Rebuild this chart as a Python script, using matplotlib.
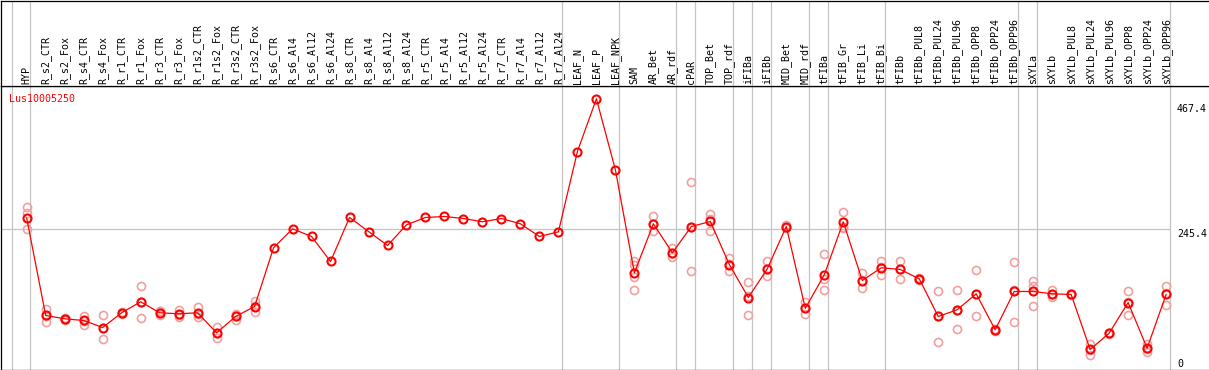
import matplotlib
matplotlib.use('Agg')
import matplotlib.pyplot as plt
import numpy as np

# categories (samples) along x
categories = ['HYP',
              'R_s2_CTR', 'R_s2_Fox', 'R_s4_CTR', 'R_s4_Fox', 'R_r1_CTR', 'R_r1_Fox',
              'R_r3_CTR', 'R_r3_Fox', 'R_r1s2_CTR', 'R_r1s2_Fox', 'R_r3s2_CTR', 'R_r3s2_Fox',
              'R_s6_CTR', 'R_s6_Al4', 'R_s6_Al12', 'R_s6_Al24', 'R_s8_CTR', 'R_s8_Al4',
              'R_s8_Al12', 'R_s8_Al24', 'R_r5_CTR', 'R_r5_Al4', 'R_r5_Al12', 'R_r5_Al24',
              'R_r7_CTR', 'R_r7_Al4', 'R_r7_Al12', 'R_r7_Al24',
              'LEAF_N', 'LEAF_P', 'LEAF_NPK',
              'SAM', 'AR_Bet', 'AR_rdf', 'cPAR', 'TOP_Bet', 'TOP_rdf', 'iFIBa', 'iFIBb',
              'MID_Bet', 'MID_rdf', 'tFIBa', 'tFIB_Gr', 'tFIB_Li', 'tFIB_Bi',
              'tFIBb', 'tFIBb_PUL8', 'tFIBb_PUL24', 'tFIBb_PUL96', 'tFIBb_OPP8',
              'tFIBb_OPP24', 'tFIBb_OPP96', 'sXYLa',
              'sXYLb', 'sXYLb_PUL8', 'sXYLb_PUL24', 'sXYLb_PUL96', 'sXYLb_OPP8',
              'sXYLb_OPP24', 'sXYLb_OPP96']

# how many categories in each group (grey separator after each group)
group_sizes = [1, 28, 3, 3, 1, 2, 1, 1, 2, 1, 3, 7, 1, 7]

# mean expression per category
means = [264.3,
         91.5, 85.6, 82.6, 70.1, 96.3, 115.8, 96.3, 94.5, 96.3, 60.7, 89.7, 107.4,
         211.7, 245.4, 231.8, 187.4, 265.6, 240.6, 215.8, 252.5,
         265.5, 267.3, 263.7, 257.9, 263.7, 254.3, 231.8, 240.1,
         382.7, 476.3, 350.2,
         167.3, 254.3, 202.8, 249.5, 258.4, 182.0, 123.4, 174.4,
         249.5, 104.2, 163.7, 257.8, 153.6, 176.2,
         173.2, 156.6, 89.7, 101.6, 130.0, 66.1, 134.1, 134.1,
         130.0, 128.8, 31.1, 60.0, 114.5, 33.4, 128.8]

# individual replicates per category
replicates = [[285.0, 273.8, 245.4],
              [103.4, 79.6, 91.0], [84.0, 87.0, 86.0], [90.2, 73.7, 82.0],
              [91.5, 50.1, 69.0], [95.0, 98.0, 96.0], [144.2, 87.9, 115.0],
              [98.6, 91.5, 99.0], [101.6, 88.4, 93.0], [106.2, 88.4, 94.0],
              [70.7, 51.1, 60.0], [94.5, 83.8, 90.0], [116.9, 97.3, 108.0],
              [], [], [], [], [], [], [], [],
              [], [], [], [], [], [], [], [],
              [], [], [],
              [187.4, 181.0, 159.5, 135.9], [269.0, 241.2, 254.0], [211.7, 195.0, 202.0],
              [328.9, 170.8, 249.0], [272.1, 241.2, 262.0], [193.2, 170.1, 183.0],
              [151.3, 92.7, 126.0], [187.4, 162.0, 174.0],
              [252.2, 249.5, 247.7], [115.3, 93.4, 104.0], [199.8, 156.6, 135.9],
              [276.1, 249.5, 247.0], [166.6, 139.9, 154.0], [187.9, 163.7, 177.0],
              [189.1, 156.6, 174.0], [158.0, 155.0, 157.0], [134.1, 44.8, 90.0],
              [135.9, 67.8, 101.0], [171.4, 89.7, 129.0], [68.0, 64.0, 66.0],
              [185.6, 80.8, 136.0], [152.4, 143.0, 108.7],
              [137.1, 124.0, 129.0], [130.0, 127.5, 129.0], [40.0, 21.7, 31.0],
              [61.0, 59.0, 60.0], [134.1, 92.7, 116.0], [41.2, 27.5, 32.0],
              [144.2, 110.5, 131.0]]

y_ticks = [0, 245.4, 467.4]
y_tick_labels = ['0', '245.4', '467.4']
gene = 'Lus10005250'

W, H = 1209, 370
fig = plt.figure(figsize=(W / 100, H / 100), dpi=100)
fig.patch.set_facecolor('white')

# pixel layout
left_px = 1
top_split = 85   # line between label band and plot
bottom_px = 369
x0_px = 26.7     # centre of first category
step_px = 18.99

ax_w = (W - left_px) / W
ax = fig.add_axes([left_px / W, (H - bottom_px - 0.5) / H, ax_w, (bottom_px - top_split) / H])
ax_top = fig.add_axes([left_px / W, (H - top_split - 0.5) / H, ax_w, (top_split - 0.5) / H])

xlim = ((left_px - x0_px) / step_px, (W - x0_px) / step_px)
for a in (ax, ax_top):
    a.set_xlim(*xlim)
    a.set_xticks([])
    a.set_yticks([])
    for s in ('left', 'top', 'bottom'):
        a.spines[s].set_color('black')
        a.spines[s].set_linewidth(0.9)
    a.spines['right'].set_visible(False)

# y scale: value -> pixel  y = 366.5 - 0.5631 * v
ax.set_ylim((366.5 - bottom_px) / 0.5631, (366.5 - top_split) / 0.5631)
ax_top.set_ylim(0, 1)

n = len(categories)
xs = np.arange(n)
grey = '#c4c4c4'

# group separators
ends = [-1] + list(np.cumsum(group_sizes) - 1)
for e in ends:
    for a in (ax, ax_top):
        a.axvline(e + 0.2, color=grey, lw=0.9, zorder=1)

# horizontal grid at middle tick
ax.hlines(y_ticks[1], xlim[0], ends[-1] + 0.2, color=grey, lw=0.9, zorder=1)

# replicates
for i, reps in enumerate(replicates):
    if reps:
        ax.plot([i] * len(reps), reps, 'o', ms=5.8, mfc='none', mec='#f0a0a0',
                mew=1.2, zorder=2, clip_on=False)

# mean line
ax.plot(xs, means, '-', color='red', lw=0.9, zorder=3)
ax.plot(xs, means, 'o', ms=5.8, mfc='none', mec='red', mew=1.5, zorder=4)

# category labels
for i, c in enumerate(categories):
    ax_top.text(i, 2 / 85, c, rotation=90, ha='center', va='bottom',
                family='DejaVu Sans Mono', fontsize=7.2, color='black')

# gene name
ax.text(8 / (W - left_px), 1 - 8 / (bottom_px - top_split), gene, transform=ax.transAxes,
        ha='left', va='top', family='DejaVu Sans Mono', fontsize=7.2, color='red')

# value labels on the right
for v, lab in zip(y_ticks, y_tick_labels):
    va = 'baseline' if v == min(y_ticks) else 'top'
    ax.text(n - 1 + 0.57, v, lab, ha='left', va=va, family='DejaVu Sans Mono',
            fontsize=7.2, color='black', clip_on=False)

fig.savefig('out.png', dpi=100)
